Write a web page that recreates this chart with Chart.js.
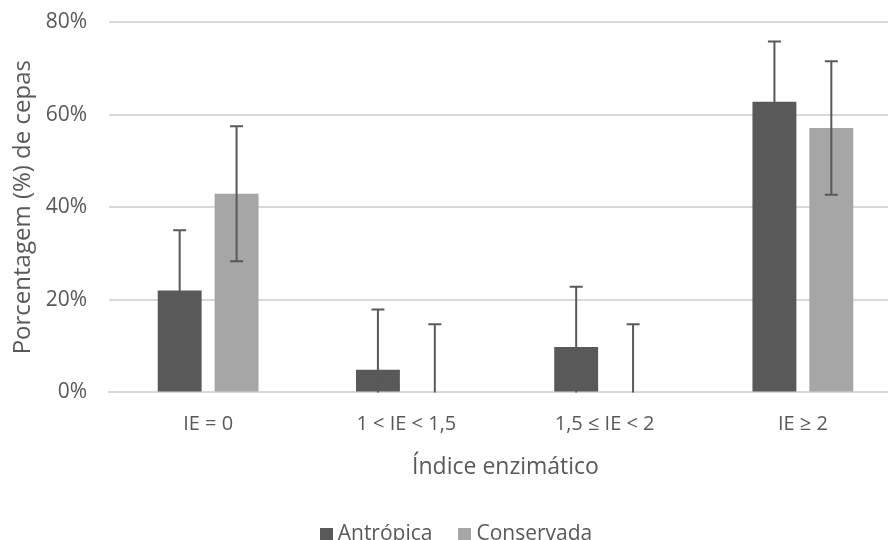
<!DOCTYPE html>
<html>
<head>
<meta charset="utf-8">
<script src="https://cdn.jsdelivr.net/npm/chart.js@4.4.1/dist/chart.umd.min.js"></script>
<style>
    html, body { margin: 0; padding: 0; background: #fff; }
    body { width: 888px; height: 540px; overflow: hidden; position: relative; }
    #wrap { position: absolute; left: 0; top: 0; width: 904px; height: 540px; }
    #legend {
        position: absolute; left: 12px; width: 888px; top: 520px; line-height: 24px;
        text-align: center; font-family: "Open Sans", sans-serif; font-size: 21px; color: #595959;
        white-space: nowrap;
    }
    #legend span.item { margin: 0 13px; }
    #legend span.box { display: inline-block; width: 13px; height: 12px; margin-right: 5px; }
</style>
</head>
<body>
<div id="wrap"><canvas id="myChart1" width="904" height="540"></canvas></div>
<div id="legend"></div>
<script>
// data
const categories = ['IE = 0', '1 < IE < 1,5', '1,5 ≤ IE < 2', 'IE ≥ 2'];
const antropica = [22, 4.9, 9.8, 62.8];
const conservada = [42.9, 0, 0, 57.1];
const antropicaErr = [13, 13, 13, 13];
const conservadaErr = [14.6, 14.7, 14.7, 14.4];
const yTicks = [0, 20, 40, 60, 80];

const darkGray = '#595959';
const lightGray = '#a6a6a6';
const textColor = '#595959';

// error bars drawn with the chart's own scales
const errorBars = {
    id: 'errorBars',
    afterDatasetsDraw(chart) {
        const ctx = chart.ctx;
        const yScale = chart.scales.y;
        const area = chart.chartArea;
        ctx.save();
        ctx.beginPath();
        ctx.rect(area.left, area.top - 2, area.right - area.left, area.bottom - area.top + 2);
        ctx.clip();
        ctx.strokeStyle = darkGray;
        ctx.lineWidth = 2;
        chart.data.datasets.forEach((ds, i) => {
            const meta = chart.getDatasetMeta(i);
            meta.data.forEach((bar, j) => {
                const v = ds.data[j];
                const e = ds.errors[j];
                const yTop = yScale.getPixelForValue(v + e);
                const yBot = yScale.getPixelForValue(v - e);
                ctx.beginPath();
                ctx.moveTo(bar.x, yTop);
                ctx.lineTo(bar.x, yBot);
                ctx.moveTo(bar.x - 6.5, yTop);
                ctx.lineTo(bar.x + 6.5, yTop);
                ctx.moveTo(bar.x - 6.5, yBot);
                ctx.lineTo(bar.x + 6.5, yBot);
                ctx.stroke();
            });
        });
        ctx.restore();
    }
};

const apidata = {
    labels: categories,
    datasets: [
        {
            label: 'Antrópica',
            data: antropica,
            errors: antropicaErr,
            backgroundColor: darkGray,
            barPercentage: 0.772,
            categoryPercentage: 0.574
        },
        {
            label: 'Conservada',
            data: conservada,
            errors: conservadaErr,
            backgroundColor: lightGray,
            barPercentage: 0.772,
            categoryPercentage: 0.574
        }
    ]
};

const config = {
    type: 'bar',
    data: apidata,
    options: {
        responsive: false,
        animation: false,
        layout: { padding: { top: 22, right: 2, bottom: 59, left: 0 } },
        plugins: {
            legend: { display: false },
            tooltip: { enabled: false }
        },
        scales: {
            x: {
                grid: { display: false, drawTicks: false },
                border: { color: '#d9d9d9', width: 2 },
                ticks: {
                    color: textColor, padding: 20,
                    font: { family: 'Open Sans', size: 20 }
                },
                title: {
                    display: true, text: 'Índice enzimático', color: textColor,
                    font: { family: 'Open Sans', size: 23 }, padding: { top: -3, bottom: 0 }
                }
            },
            y: {
                min: 0, max: 80,
                afterBuildTicks: (scale) => { scale.ticks = yTicks.map(v => ({ value: v })); },
                afterFit: (scale) => {
                    scale.width = 109;
                    // tick padding should not push the plot down
                    scale.paddingTop = 0;
                    scale.paddingBottom = 0;
                },
                grid: { color: '#d9d9d9', lineWidth: 2, drawTicks: false },
                border: { display: false },
                ticks: {
                    color: textColor, padding: 22,
                    font: { family: 'Open Sans', size: 21 },
                    callback: (v) => v + '%'
                },
                title: {
                    display: true, text: 'Porcentagem (%) de cepas', color: textColor,
                    font: { family: 'Open Sans', size: 24 }, padding: { top: 9, bottom: 0 }
                }
            }
        }
    },
    plugins: [errorBars]
};

const canvas = document.getElementById('myChart1');
window.myChart = new Chart(canvas, config);

// legend underneath, built from the datasets
const legend = document.getElementById('legend');
apidata.datasets.forEach(ds => {
    const item = document.createElement('span');
    item.className = 'item';
    const box = document.createElement('span');
    box.className = 'box';
    box.style.background = ds.backgroundColor;
    item.appendChild(box);
    item.appendChild(document.createTextNode(ds.label));
    legend.appendChild(item);
});
</script>
</body>
</html>
